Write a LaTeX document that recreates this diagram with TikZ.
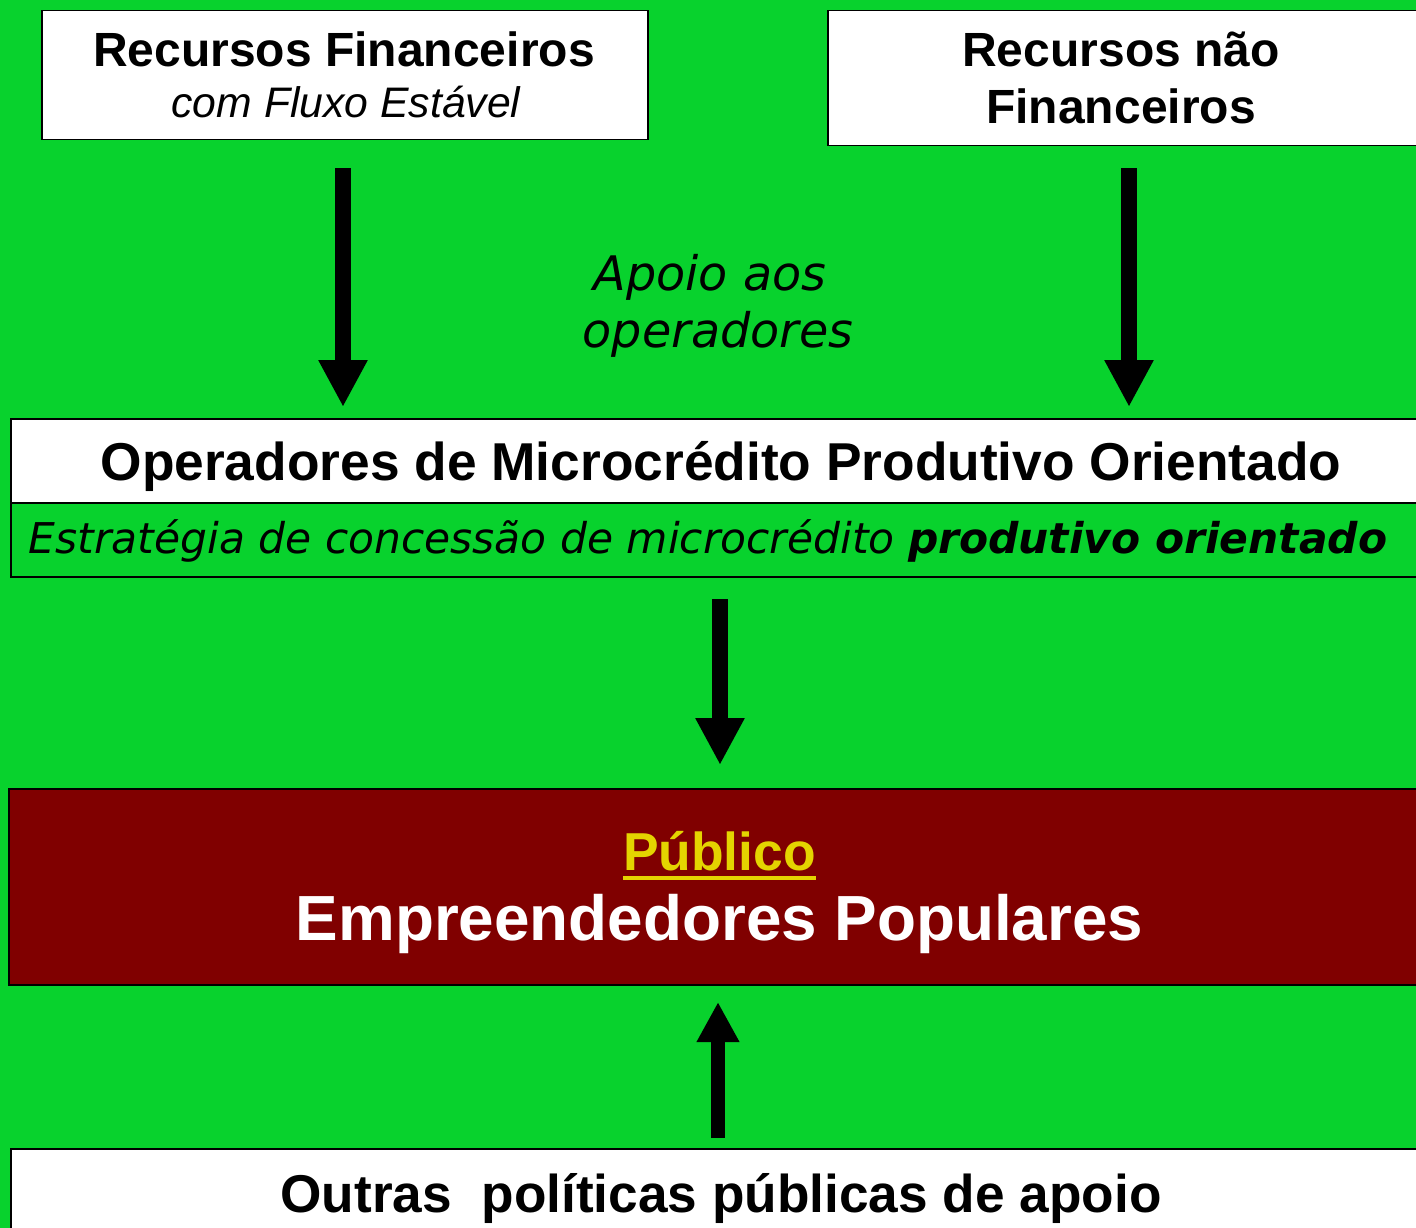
\documentclass[tikz,border=0pt]{standalone}
\usepackage{fontspec}
\setmainfont{Liberation Sans}
\newfontfamily\verd{DejaVu Sans}
\usetikzlibrary{arrows.meta}
\definecolor{bggreen}{RGB}{8,210,45}
\definecolor{darkred}{RGB}{128,0,0}
\definecolor{pubyellow}{RGB}{228,212,0}
\begin{document}
\begin{tikzpicture}[x=1pt,y=-1pt,
  box/.style={draw=black, line width=1.5pt, anchor=north west, inner sep=0pt},
  lbl/.style={anchor=base, inner sep=0pt},
  hb/.style={font=\bfseries\fontsize{#1}{#1}\selectfont},
  vi/.style={font=\verd\itshape\fontsize{#1}{#1}\selectfont},
  bigarrow/.style={line width=16pt, -{Triangle[width=46pt,length=47pt]}},
  uparrow/.style={line width=14pt, -{Triangle[width=40pt,length=40pt]}},
]
\useasboundingbox (0,0) rectangle (1416,1228);
\fill[bggreen] (0,0) rectangle (1416,1228);
\clip (0,0) rectangle (1416,1228);

% boxes
\node[box, fill=white, minimum width=606pt, minimum height=129pt] (rf) at (41,10) {};
\node[box, fill=white, minimum width=600pt, minimum height=135pt] (rnf) at (827,10) {};
\node[box, fill=white, minimum width=1420pt, minimum height=84pt] (opw) at (10,418) {};
\node[box, minimum width=1420pt, minimum height=74pt] (ops) at (10,502) {};
\node[box, fill=darkred, minimum width=1420pt, minimum height=196pt] (pubbox) at (8,788) {};
\node[box, fill=white, minimum width=1420pt, minimum height=100pt] (outbox) at (10,1148) {};

% texts
\node[lbl, hb=48] (t1a) at (344,67) {Recursos Financeiros};
\node[lbl, font=\itshape\fontsize{42.7}{42.7}\selectfont] (t1b) at (346,118) {com Fluxo Estável};
\node[lbl, hb=48] (t2a) at (1121,67) {Recursos não};
\node[lbl, hb=48] (t2b) at (1121,124) {Financeiros};
\node[lbl, vi=47.6] (ap1) at (710,290) {Apoio aos};
\node[lbl, vi=47.6] (ap2) at (718,347) {operadores};
\node[lbl, hb=53.3] (opt) at (721,480) {Operadores de Microcrédito Produtivo Orientado};
\node[lbl, vi=42.4] (est) at (708,553) {Estratégia de concessão de microcrédito \textbf{produtivo orientado}};
\node[lbl, hb=53.4, text=pubyellow] (pub) at (719.5,870) {Público};
\draw[pubyellow, line width=4pt] ([yshift=-8pt]pub.base west) -- ([yshift=-8pt]pub.base east);
\node[lbl, hb=63.8, text=white] (emp) at (719.5,940) {Empreendedores Populares};
\node[lbl, hb=53.2] (outt) at (721,1212) {Outras\ \ políticas públicas de apoio};

% arrows
\coordinate (a1s) at (343,168); \coordinate (a1e) at (343,407);
\coordinate (a2s) at (1129,168); \coordinate (a2e) at (1129,407);
\coordinate (a3s) at (720,599); \coordinate (a3e) at (720,765);
\coordinate (a4s) at (718,1138); \coordinate (a4e) at (718,1002);
\draw[bigarrow] (a1s) -- (a1e);
\draw[bigarrow] (a2s) -- (a2e);
\draw[bigarrow] (a3s) -- (a3e);
\draw[uparrow] (a4s) -- (a4e);
\end{tikzpicture}
\end{document}
